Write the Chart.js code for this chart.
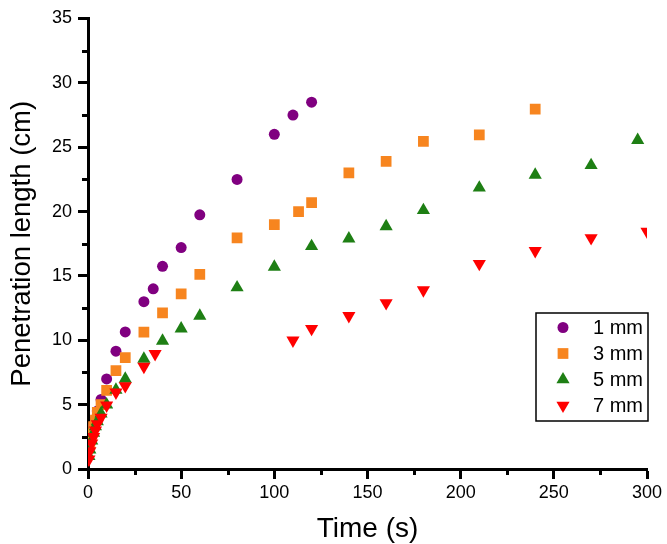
<!DOCTYPE html>
<html>
<head>
<meta charset="utf-8">
<script src="https://cdn.jsdelivr.net/npm/chart.js@4.4.1/dist/chart.umd.min.js"></script>
<style>
  html, body { margin: 0; padding: 0; background: #fff; }
  #wrap { width: 667px; height: 544px; position: relative; }
</style>
</head>
<body>
<div id="wrap"><canvas id="c" width="667" height="544"></canvas></div>
<script>
// ---- data ----
const seriesLabels = ['1 mm', '3 mm', '5 mm', '7 mm'];

const time1mm = [1, 2, 3, 4, 5, 7, 10, 15, 20, 30, 35, 40, 50, 60, 80, 100, 110, 120];
const len1mm  = [2.0, 2.8, 3.4, 3.9, 4.5, 5.4, 7.0, 9.15, 10.65, 13.0, 14.0, 15.75, 17.2, 19.75, 22.5, 26.0, 27.5, 28.5];

const time3mm = [1, 2, 3, 4, 5, 7, 10, 15, 20, 30, 40, 50, 60, 80, 100, 113, 120, 140, 160, 180, 210, 240];
const len3mm  = [1.9, 2.7, 3.3, 3.8, 4.4, 5.0, 6.1, 7.65, 8.65, 10.63, 12.13, 13.6, 15.13, 17.95, 18.98, 20.0, 20.7, 23.0, 23.9, 25.45, 25.95, 27.95];

const time5mm = [0.5, 1, 2, 3, 4, 5, 7, 10, 15, 20, 30, 40, 50, 60, 80, 100, 120, 140, 160, 180, 210, 240, 270, 295];
const len5mm  = [1.0, 1.5, 2.2, 2.8, 3.3, 3.7, 4.3, 5.0, 6.15, 7.0, 8.55, 9.95, 10.9, 11.9, 14.1, 15.7, 17.3, 17.9, 18.85, 20.1, 21.85, 22.85, 23.6, 25.55];

const time7mm = [0.5, 1, 2, 3, 4, 5, 7, 10, 15, 20, 30, 36, 110, 120, 140, 160, 180, 210, 240, 270, 300];
const len7mm  = [0.75, 1.4, 2.0, 2.5, 3.0, 3.5, 4.0, 4.95, 5.95, 6.45, 7.95, 8.95, 10.0, 10.9, 11.9, 12.9, 13.9, 15.95, 16.95, 17.95, 18.45];

const xTickValues = [0, 50, 100, 150, 200, 250, 300];
const yTickValues = [0, 5, 10, 15, 20, 25, 30, 35];
const xTitle = 'Time (s)';
const yTitle = 'Penetration length (cm)';

// ---- build chart ----
const FONT = "'Liberation Sans', Arial, sans-serif";
function pts(xs, ys) { return xs.map((x, i) => ({ x: x, y: ys[i] })); }

const styles = [
  { color: '#800080', pointStyle: 'circle',   radius: 5.5, rotation: 0,   order: 3 },
  { color: '#F7851F', pointStyle: 'rect',     radius: 7.6, rotation: 0,   order: 2 },
  { color: '#1E7F14', pointStyle: 'triangle', radius: 7.6, rotation: 0,   order: 1 },
  { color: '#FF0000', pointStyle: 'triangle', radius: 7.6, rotation: 180, order: 0 }
];
const allData = [pts(time1mm, len1mm), pts(time3mm, len3mm), pts(time5mm, len5mm), pts(time7mm, len7mm)];

const datasets = allData.map((d, i) => ({
  label: seriesLabels[i],
  data: d,
  showLine: false,
  order: styles[i].order,
  pointStyle: styles[i].pointStyle,
  pointRadius: styles[i].radius,
  pointRotation: styles[i].rotation,
  pointBackgroundColor: styles[i].color,
  pointBorderColor: styles[i].color,
  pointBorderWidth: 0,
  pointHoverRadius: styles[i].radius
}));

const minorTicks = {
  id: 'minorTicks',
  afterDraw(chart) {
    const ctx = chart.ctx;
    const xs = chart.scales.x, ys = chart.scales.y;
    const ca = chart.chartArea;
    ctx.save();
    ctx.strokeStyle = '#000';
    ctx.lineWidth = 3;
    ctx.beginPath();
    for (let i = 0; i < xTickValues.length - 1; i++) {
      const v = (xTickValues[i] + xTickValues[i + 1]) / 2;
      const p = Math.round(xs.getPixelForValue(v)) + 0.5;
      ctx.moveTo(p, ca.bottom);
      ctx.lineTo(p, ca.bottom + 6);
    }
    for (let i = 0; i < yTickValues.length - 1; i++) {
      const v = (yTickValues[i] + yTickValues[i + 1]) / 2;
      const p = Math.round(ys.getPixelForValue(v)) + 0.5;
      ctx.moveTo(ca.left, p);
      ctx.lineTo(ca.left - 6, p);
    }
    ctx.stroke();
    ctx.restore();
  }
};

const boxLegend = {
  id: 'boxLegend',
  afterDraw(chart) {
    const ctx = chart.ctx;
    const ca = chart.chartArea;
    const w = 112, h = 108;
    const right = ca.right + 1;
    const left = right - w;
    const top = ca.top + 294.5;
    ctx.save();
    ctx.strokeStyle = '#000';
    ctx.lineWidth = 1.5;
    ctx.strokeRect(left, top, w, h);
    ctx.font = '20px ' + FONT;
    ctx.textBaseline = 'middle';
    ctx.textAlign = 'left';
    chart.data.datasets.forEach((ds, i) => {
      const cy = top + 14.5 + i * 26;
      const cx = left + 27;
      ctx.fillStyle = ds.pointBackgroundColor;
      ctx.strokeStyle = ds.pointBorderColor;
      Chart.helpers.drawPoint(ctx, {
        pointStyle: ds.pointStyle,
        radius: ds.pointRadius,
        rotation: ds.pointRotation,
        borderWidth: 0
      }, cx, cy);
      ctx.fillStyle = '#000';
      ctx.fillText(ds.label, left + 57, cy + 1);
    });
    ctx.restore();
  }
};

new Chart(document.getElementById('c'), {
  type: 'scatter',
  data: { datasets: datasets },
  options: {
    responsive: false,
    animation: false,
    events: [],
    layout: { padding: { top: 18.5, right: 20, left: 0, bottom: 0 } },
    plugins: { legend: { display: false }, tooltip: { enabled: false } },
    scales: {
      x: {
        type: 'linear',
        min: 0, max: 300,
        afterFit(s) { s.height = 75; },
        afterBuildTicks(s) { s.ticks = xTickValues.map(v => ({ value: v })); },
        ticks: { color: '#000', font: { family: FONT, size: 18 }, padding: 3, maxRotation: 0 },
        grid: { drawOnChartArea: false, drawTicks: true, tickLength: 10, tickWidth: 3, tickColor: '#000' },
        border: { display: true, color: '#000', width: 3 },
        title: { display: true, text: xTitle, color: '#000', font: { family: FONT, size: 28, lineHeight: 1 }, padding: { top: 0, bottom: 1 } }
      },
      y: {
        type: 'linear',
        min: 0, max: 35,
        afterFit(s) { s.width = 88; },
        afterBuildTicks(s) { s.ticks = yTickValues.map(v => ({ value: v })); },
        ticks: { color: '#000', font: { family: FONT, size: 18 }, padding: 6 },
        grid: { drawOnChartArea: false, drawTicks: true, tickLength: 10, tickWidth: 3, tickColor: '#000' },
        border: { display: true, color: '#000', width: 3 },
        title: { display: true, text: yTitle, color: '#000', font: { family: FONT, size: 27.5, lineHeight: 1 }, padding: { top: 9, bottom: 0 } }
      }
    }
  },
  plugins: [minorTicks, boxLegend]
});
</script>
</body>
</html>
